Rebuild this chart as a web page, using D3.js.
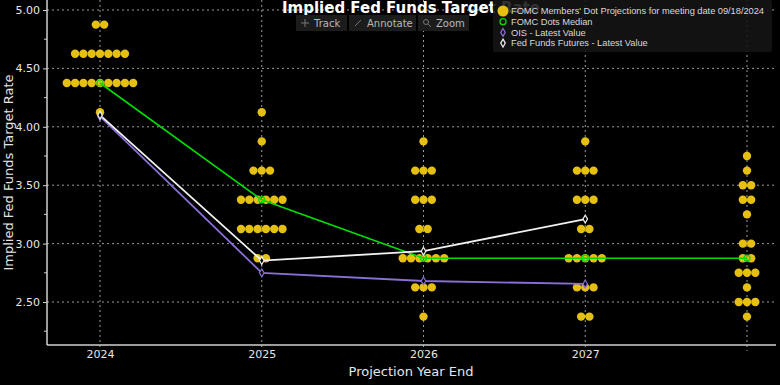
<!DOCTYPE html>
<html lang="en">
<head>
	<meta charset="UTF-8">
	<title>Implied Fed Funds Target Rate</title>
	<script src="https://cdn.jsdelivr.net/npm/d3@7"></script>
	<style>
		body { margin: 0; background: #000; }
		svg { display: block; }
	</style>
</head>
<body>
	<svg id="viz"></svg>
	<script>
		// Data ---
		const years = ['2024', '2025', '2026', '2027', ''];
		// dot plot: [rate, number of participants] per projection year
		const dots2024 = [[4.875, 2], [4.625, 7], [4.375, 9], [4.125, 1]];
		const dots2025 = [[4.125, 1], [3.875, 1], [3.625, 3], [3.375, 6], [3.125, 6], [2.875, 2]];
		const dots2026 = [[3.875, 1], [3.625, 3], [3.375, 3], [3.125, 2], [2.875, 6], [2.625, 3], [2.375, 1]];
		const dots2027 = [[3.875, 1], [3.625, 3], [3.375, 3], [3.125, 2], [2.875, 5], [2.625, 3], [2.375, 2]];
		const dotsLonger = [[3.75, 1], [3.625, 1], [3.5, 2], [3.375, 2], [3.25, 1], [3.0, 2], [2.875, 2], [2.75, 3], [2.625, 1], [2.5, 3], [2.375, 1]];
		const medianDots = [4.375, 3.375, 2.875, 2.875, 2.875];
		const oisValues = [4.09, 2.75, 2.68, 2.655];
		const futuresValues = [4.10, 2.855, 2.935, 3.21];
		const yTicks = [2.5, 3.0, 3.5, 4.0, 4.5, 5.0];
		const legendLabels = [
			"FOMC Members' Dot Projections for meeting date 09/18/2024",
			'FOMC Dots Median',
			'OIS - Latest Value',
			'Fed Funds Futures - Latest Value'
		];

		// Dimensions ---
		const svgWidth = 780, svgHeight = 385;
		const plot = { left: 47, right: 776, top: 0, bottom: 345 };
		const colors = {
			dot: '#e6c010',
			median: '#00dd00',
			ois: '#8a6fd6',
			futures: '#f2f2f2',
			grid: '#9a9a9a',
			axis: '#d0d0d0',
			text: '#e6e6e6'
		};
		const font = 'DejaVu Sans, Verdana, sans-serif';
		const smallFont = 'Liberation Sans, Arial, sans-serif';

		const svg = d3.select('#viz')
			.attr('width', svgWidth)
			.attr('height', svgHeight)
			.style('background', '#000');

		// Scales ---
		const x = d3.scaleLinear().domain([0, 4]).range([100, 747]);
		const y = d3.scaleLinear().domain([2.5, 5]).range([302, 10]);

		// Grid ---
		svg.append('g')
			.selectAll('line')
			.data(yTicks)
			.join('line')
			.attr('x1', plot.left).attr('x2', plot.right)
			.attr('y1', d => y(d)).attr('y2', d => y(d))
			.attr('stroke', colors.grid)
			.attr('stroke-width', 1)
			.attr('stroke-dasharray', '2 3');
		svg.append('g')
			.selectAll('line')
			.data(years)
			.join('line')
			.attr('x1', (d, i) => x(i)).attr('x2', (d, i) => x(i))
			.attr('y1', plot.top).attr('y2', plot.bottom + 6)
			.attr('stroke', colors.grid)
			.attr('stroke-width', 1)
			.attr('stroke-dasharray', '2 3');

		// Axes ---
		const yAxis = svg.append('g')
			.attr('transform', `translate(${plot.left},0)`)
			.call(d3.axisLeft(y).tickValues(yTicks).tickFormat(d3.format('.2f')).tickSize(4).tickPadding(3));
		yAxis.select('.domain').remove();
		yAxis.append('line')
			.attr('y1', plot.top).attr('y2', plot.bottom)
			.attr('stroke', colors.axis).attr('stroke-width', 1.5);
		yAxis.selectAll('line').attr('stroke', colors.axis);
		yAxis.selectAll('text').attr('fill', colors.text).style('font-family', font).style('font-size', '11px');
		// minor ticks
		yAxis.append('g')
			.selectAll('line')
			.data(d3.range(2.25, 5.1, 0.5))
			.join('line')
			.attr('x1', -3).attr('x2', 0)
			.attr('y1', d => y(d)).attr('y2', d => y(d))
			.attr('stroke', colors.axis);

		const xAxis = svg.append('g')
			.attr('transform', `translate(0,${plot.bottom})`)
			.call(d3.axisBottom(x).tickValues(d3.range(years.length)).tickFormat(i => years[i]).tickSize(0).tickPadding(5));
		xAxis.select('.domain').remove();
		xAxis.append('line')
			.attr('x1', plot.left).attr('x2', plot.right)
			.attr('stroke', colors.axis).attr('stroke-width', 1.5);
		xAxis.selectAll('text').attr('fill', colors.text).style('font-family', font).style('font-size', '11px');

		// Axis titles ---
		svg.append('text')
			.attr('transform', `translate(13,${(plot.top + plot.bottom) / 2}) rotate(-90)`)
			.attr('text-anchor', 'middle')
			.attr('fill', colors.text)
			.style('font-family', font).style('font-size', '13px')
			.text('Implied Fed Funds Target Rate');
		svg.append('text')
			.attr('x', 411).attr('y', 376)
			.attr('text-anchor', 'middle')
			.attr('fill', colors.text)
			.style('font-family', font).style('font-size', '13px')
			.text('Projection Year End');

		// Dots ---
		const dotSets = [dots2024, dots2025, dots2026, dots2027, dotsLonger];
		const dotSpacing = 8.3;
		const allDots = [];
		dotSets.forEach((set, i) => {
			set.forEach(([rate, n]) => {
				for (let j = 0; j < n; j++) {
					allDots.push({ i, rate, off: (j - (n - 1) / 2) * dotSpacing });
				}
			});
		});
		svg.append('g')
			.selectAll('circle')
			.data(allDots)
			.join('circle')
			.attr('cx', d => x(d.i) + d.off)
			.attr('cy', d => y(d.rate))
			.attr('r', 4.2)
			.attr('fill', colors.dot);

		// Lines ---
		const line = d3.line().x((d, i) => x(i)).y(d => y(d));
		svg.append('path')
			.attr('d', line(medianDots))
			.attr('fill', 'none').attr('stroke', colors.median).attr('stroke-width', 1.6);
		svg.append('path')
			.attr('d', line(oisValues))
			.attr('fill', 'none').attr('stroke', colors.ois).attr('stroke-width', 1.8);
		svg.append('path')
			.attr('d', line(futuresValues))
			.attr('fill', 'none').attr('stroke', colors.futures).attr('stroke-width', 1.8);

		// Markers ---
		svg.append('g')
			.selectAll('circle')
			.data(medianDots)
			.join('circle')
			.attr('cx', (d, i) => x(i)).attr('cy', d => y(d))
			.attr('r', 3).attr('fill', 'none')
			.attr('stroke', colors.median).attr('stroke-width', 1.2);
		const diamond = d3.symbol().type(d3.symbolDiamond).size(18);
		[[oisValues, colors.ois], [futuresValues, colors.futures]].forEach(([vals, c]) => {
			svg.append('g')
				.selectAll('path')
				.data(vals)
				.join('path')
				.attr('d', diamond)
				.attr('transform', (d, i) => `translate(${x(i)},${y(d)})`)
				.attr('fill', '#000').attr('stroke', c).attr('stroke-width', 1.2);
		});

		// Title ---
		svg.append('text')
			.attr('x', 411).attr('y', 13)
			.attr('text-anchor', 'middle')
			.attr('fill', '#fff')
			.style('font-family', font).style('font-size', '15px').style('font-weight', 'bold')
			.text('Implied Fed Funds Target Rate');

		// Toolbar ---
		const tools = [
			{ label: 'Track', x: 296, w: 51 },
			{ label: 'Annotate', x: 349, w: 67 },
			{ label: 'Zoom', x: 418, w: 51 }
		];
		const toolbar = svg.append('g')
			.selectAll('g')
			.data(tools)
			.join('g')
			.attr('transform', d => `translate(${d.x},15)`);
		toolbar.append('rect')
			.attr('width', d => d.w).attr('height', 16)
			.attr('fill', '#1c1c1c');
		toolbar.append('text')
			.attr('x', 18).attr('y', 12)
			.attr('fill', '#b8b8b8')
			.style('font-family', font).style('font-size', '10px')
			.text(d => d.label);
		// small icons
		const icon = toolbar.append('g').attr('transform', 'translate(9,8)').attr('stroke', '#777').attr('fill', 'none');
		icon.filter((d, i) => i === 0).call(g => {
			g.append('line').attr('x1', -4).attr('x2', 4).attr('y1', 0).attr('y2', 0);
			g.append('line').attr('x1', 0).attr('x2', 0).attr('y1', -4).attr('y2', 4);
		});
		icon.filter((d, i) => i === 1).call(g => {
			g.append('line').attr('x1', -3).attr('x2', 3).attr('y1', 3).attr('y2', -3);
		});
		icon.filter((d, i) => i === 2).call(g => {
			g.append('circle').attr('cx', -1).attr('cy', -1).attr('r', 2.5);
			g.append('line').attr('x1', 1).attr('x2', 4).attr('y1', 1).attr('y2', 4);
		});

		// Legend ---
		const legend = svg.append('g').attr('transform', 'translate(493,0)');
		legend.append('rect')
			.attr('width', 279).attr('height', 52).attr('rx', 2)
			.attr('fill', '#141414').attr('fill-opacity', 0.88);
		const items = legend.selectAll('g')
			.data(legendLabels)
			.join('g')
			.attr('transform', (d, i) => `translate(0,${11 + i * 10.7})`);
		const legendText = items.append('text')
			.attr('x', 18).attr('y', 3.3)
			.attr('fill', '#d8d8d8')
			.style('font-family', smallFont).style('font-size', '9.3px')
			.text(d => d);
		// stretch labels so the longest one spans the legend box like the original
		const natural = legendText.nodes().map(n => n.getComputedTextLength());
		const stretch = 253 / natural[0];
		legendText
			.attr('textLength', (d, i) => natural[i] * stretch)
			.attr('lengthAdjust', 'spacing');
		items.filter((d, i) => i === 0).append('circle')
			.attr('cx', 10).attr('cy', 0).attr('r', 5.5).attr('fill', colors.dot);
		items.filter((d, i) => i === 1).append('circle')
			.attr('cx', 10).attr('cy', 0).attr('r', 3)
			.attr('fill', 'none').attr('stroke', colors.median).attr('stroke-width', 1.3);
		items.filter((d, i) => i >= 2).append('path')
			.attr('d', diamond)
			.attr('transform', 'translate(10,0)')
			.attr('fill', 'none')
			.attr('stroke', (d, i) => i === 0 ? colors.ois : colors.futures)
			.attr('stroke-width', 1.2);
	</script>
</body>
</html>
